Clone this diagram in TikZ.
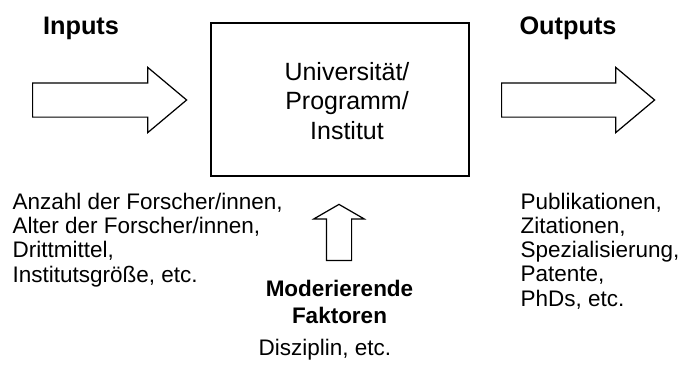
\documentclass[tikz,border=0pt]{standalone}
\usepackage{fontspec}
\setmainfont{Liberation Sans}
\usetikzlibrary{shapes.arrows, positioning}

\begin{document}
\begin{tikzpicture}[line width=0.7pt,
        blockarrow/.style={single arrow, draw, anchor=tail, inner xsep=0pt, single arrow head indent=0pt},
        heading/.style={anchor=base, inner sep=0pt, font=\fontsize{14.4}{17}\selectfont\bfseries},
        listing/.style={anchor=base west, inner sep=0pt, align=left, font=\fontsize{12.8}{13.7}\selectfont}]
        \useasboundingbox (0,0) rectangle (13.56,-7.3);

        \node at (1.62,-0.68) [heading] (inputs) {Inputs};
        \node at (11.36,-0.68) [heading] (outputs) {Outputs};

        \node at (0.64,-2.0) [blockarrow, inner ysep=0.33cm, minimum height=3.08cm, single arrow head extend=0.31cm, single arrow tip angle=80] (inputs_arrow) {};
        \node at (10.02,-2.0) [blockarrow, inner ysep=0.33cm, minimum height=3.06cm, single arrow head extend=0.31cm, single arrow tip angle=80] (outputs_arrow) {};

        \node at (6.8,-1.99) [rectangle, draw, minimum width=5.16cm, minimum height=3.06cm] (uni) {};
        \node at (6.94,-2.02) [align=center, font=\fontsize{14.2}{17}\selectfont] (uni_text) {Universität/\\Programm/\\Institut};

        \node at (6.78,-5.22) [blockarrow, rotate=90, inner ysep=0.24cm, minimum height=1.12cm, single arrow head extend=0.25cm, single arrow tip angle=120] (mod_arrow) {};

        \node at (0.24,-5.64) [listing] (inputs_list) {Anzahl der Forscher/innen,\\Alter der Forscher/innen,\\Drittmittel,\\Institutsgröße, etc.};
        \node at (10.4,-6.12) [listing] (outputs_list) {Publikationen,\\Zitationen,\\Spezialisierung,\\Patente,\\PhDs, etc.};

        \node at (6.79,-6.46) [anchor=base, inner sep=0pt, align=center, font=\fontsize{12.8}{14.8}\selectfont\bfseries] (mod) {Moderierende\\Faktoren};
        \node at (5.16,-7.1) [listing] (mod_list) {Disziplin, etc.};
\end{tikzpicture}
\end{document}
